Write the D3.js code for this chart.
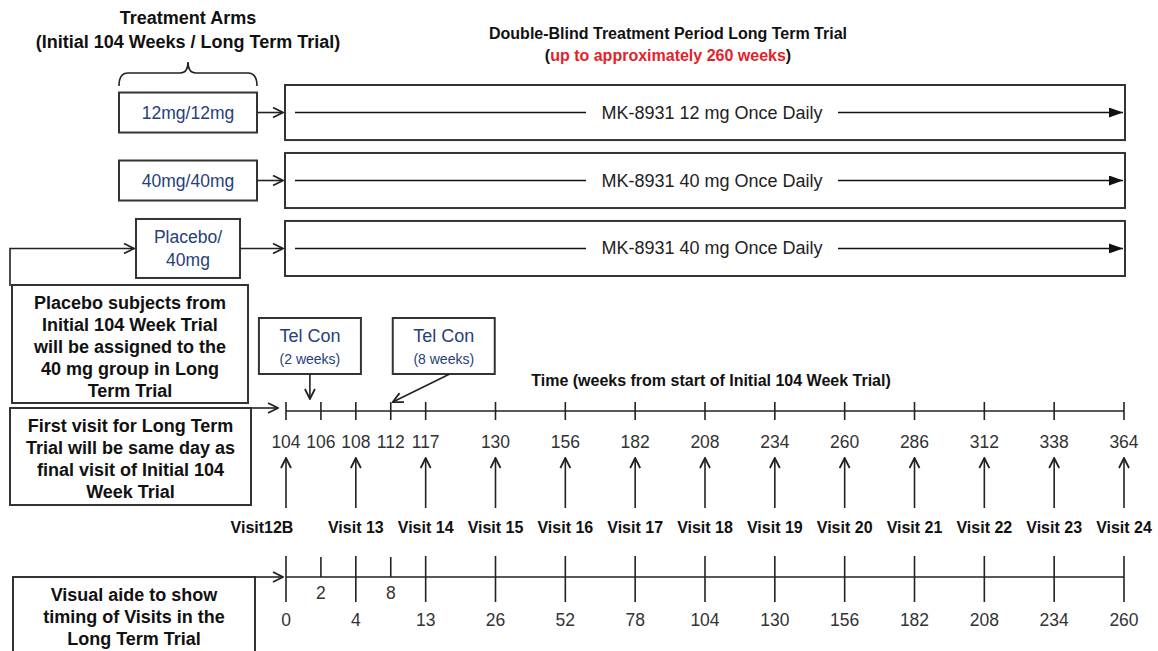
<!DOCTYPE html>
<html>
<head>
<meta charset="utf-8">
<script src="https://cdn.jsdelivr.net/npm/d3@7/dist/d3.min.js"></script>
<style>
  body { margin: 0; background: #fff; }
  text { font-family: "Liberation Sans", Arial, sans-serif; }
</style>
</head>
<body>
<div id="wrapper"></div>
<script>
// treatment arms
const armLabels = [["12mg/12mg"], ["40mg/40mg"], ["Placebo/", "40mg"]];
const armTreatments = [
  "MK-8931 12 mg Once Daily",
  "MK-8931 40 mg Once Daily",
  "MK-8931 40 mg Once Daily",
];

// visits (weeks from start of initial trial / weeks in long term trial)
const visitWeeks = [104, 108, 117, 130, 156, 182, 208, 234, 260, 286, 312, 338, 364];
const visitLongTerm = [0, 4, 13, 26, 52, 78, 104, 130, 156, 182, 208, 234, 260];
const visitNames = [
  "Visit12B", "Visit 13", "Visit 14", "Visit 15", "Visit 16", "Visit 17", "Visit 18",
  "Visit 19", "Visit 20", "Visit 21", "Visit 22", "Visit 23", "Visit 24",
];

// telephone contacts
const telconWeeks = [106, 112];
const telconLongTerm = [2, 8];
const telconLabels = ["(2 weeks)", "(8 weeks)"];

// notes on the left
const notePlacebo = ["Placebo subjects from", "Initial  104 Week Trial", "will  be assigned to the", "40 mg group in  Long", "Term Trial"];
const noteFirstVisit = ["First visit for Long Term", "Trial will  be same day as", "final visit of Initial  104", "Week Trial"];
const noteVisualAide = ["Visual aide to show", "timing of Visits in the", "Long Term Trial"];

function drawDesign() {
  const dimensions = { width: 1158, height: 651 };
  const navy = "#27407c";
  const boxStroke = "#333";

  const wrapper = d3
    .select("#wrapper")
    .append("svg")
    .attr("width", dimensions.width)
    .attr("height", dimensions.height);

  const defs = wrapper.append("defs");
  defs.append("marker")
    .attr("id", "open")
    .attr("markerUnits", "userSpaceOnUse")
    .attr("viewBox", "0 0 12 12")
    .attr("refX", 11).attr("refY", 6)
    .attr("markerWidth", 12).attr("markerHeight", 12)
    .attr("orient", "auto")
    .append("path")
    .attr("d", "M1,1 L11,6 L1,11")
    .attr("fill", "none")
    .attr("stroke", "#222")
    .attr("stroke-width", 1.8);
  defs.append("marker")
    .attr("id", "solid")
    .attr("markerUnits", "userSpaceOnUse")
    .attr("viewBox", "0 0 14 10")
    .attr("refX", 14).attr("refY", 5)
    .attr("markerWidth", 14).attr("markerHeight", 10)
    .attr("orient", "auto")
    .append("path")
    .attr("d", "M0,0 L14,5 L0,10 Z")
    .attr("fill", "#111");

  function addLines(g, lines, x, y0, dy) {
    const t = g.append("text").attr("text-anchor", "middle");
    lines.forEach((l, i) => {
      t.append("tspan").attr("x", x).attr("y", y0 + i * dy).text(l);
    });
    return t;
  }

  // headers
  const header = wrapper.append("g")
    .style("font-weight", "bold")
    .attr("fill", "#111");
  addLines(header, ["Treatment Arms", "(Initial  104 Weeks / Long Term Trial)"], 188, 24, 24)
    .style("font-size", "18px");
  header.append("text")
    .attr("x", 668).attr("y", 39)
    .attr("text-anchor", "middle")
    .style("font-size", "16px")
    .text("Double-Blind Treatment Period Long Term Trial");
  const sub = header.append("text")
    .attr("x", 668).attr("y", 61)
    .attr("text-anchor", "middle")
    .style("font-size", "16px");
  sub.append("tspan").text("(");
  sub.append("tspan").attr("fill", "#e4222a").text("up to approximately 260 weeks");
  sub.append("tspan").text(")");

  // brace
  wrapper.append("path")
    .attr("d", "M119,86 Q119,73 128,73 L180,73 Q188,73 188,62 Q188,73 196,73 L248,73 Q257,73 257,86")
    .attr("fill", "none")
    .attr("stroke", "#222")
    .attr("stroke-width", 1.6);

  // Step: arm rows
  const armIdx = d3.range(armLabels.length);
  const yArm = d3.scaleBand()
    .domain(armIdx)
    .range([85, 276])
    .paddingInner(0.19);

  const arms = wrapper.append("g");
  armIdx.forEach((i) => {
    const cy = yArm(i) + yArm.bandwidth() / 2;
    const twoLine = armLabels[i].length > 1;
    const bw = twoLine ? 104 : 138;
    const bh = twoLine ? 59 : 40;
    const bx = 188 - bw / 2;
    arms.append("rect")
      .attr("x", bx).attr("y", cy - bh / 2)
      .attr("width", bw).attr("height", bh)
      .attr("fill", "#fff")
      .attr("stroke", boxStroke)
      .attr("stroke-width", 2);
    addLines(arms, armLabels[i], 188, cy + 6 - (armLabels[i].length - 1) * 11, 23)
      .attr("fill", navy)
      .style("font-size", "17.5px");
    arms.append("line")
      .attr("x1", bx + bw).attr("x2", 283)
      .attr("y1", cy).attr("y2", cy)
      .attr("stroke", "#222").attr("stroke-width", 1.6)
      .attr("marker-end", "url(#open)");

    // treatment period box
    arms.append("rect")
      .attr("x", 285).attr("y", yArm(i))
      .attr("width", 840).attr("height", yArm.bandwidth())
      .attr("fill", "#fff")
      .attr("stroke", boxStroke)
      .attr("stroke-width", 2);
    arms.append("line")
      .attr("x1", 295).attr("x2", 1123)
      .attr("y1", cy).attr("y2", cy)
      .attr("stroke", "#111").attr("stroke-width", 1.6)
      .attr("marker-end", "url(#solid)");
    arms.append("rect")
      .attr("x", 586).attr("y", cy - 12)
      .attr("width", 252).attr("height", 24)
      .attr("fill", "#fff");
    arms.append("text")
      .attr("x", 712).attr("y", cy + 6)
      .attr("text-anchor", "middle")
      .style("font-size", "18px")
      .attr("fill", "#222")
      .text(armTreatments[i]);
  });

  // placebo re-assignment arrow
  const placeboY = yArm(2) + yArm.bandwidth() / 2;
  wrapper.append("path")
    .attr("d", `M10,286 L10,${placeboY} L134,${placeboY}`)
    .attr("fill", "none")
    .attr("stroke", "#222").attr("stroke-width", 1.6)
    .attr("marker-end", "url(#open)");

  // left note boxes
  const notes = wrapper.append("g")
    .style("font-weight", "bold")
    .style("font-size", "18px")
    .attr("fill", "#111");
  const noteBoxes = [
    { lines: notePlacebo, x: 12, y: 285, w: 236, h: 118 },
    { lines: noteFirstVisit, x: 10, y: 408, w: 241, h: 97 },
    { lines: noteVisualAide, x: 13, y: 577, w: 242, h: 90 },
  ];
  noteBoxes.forEach((b) => {
    notes.append("rect")
      .attr("x", b.x).attr("y", b.y)
      .attr("width", b.w).attr("height", b.h)
      .attr("fill", "#fff")
      .attr("stroke", boxStroke)
      .attr("stroke-width", 2);
    addLines(notes, b.lines, b.x + b.w / 2, b.y + 24, 22);
  });
  wrapper.append("line")
    .attr("x1", 251).attr("x2", 278).attr("y1", 408).attr("y2", 408)
    .attr("stroke", "#222").attr("stroke-width", 1.6)
    .attr("marker-end", "url(#open)");
  wrapper.append("line")
    .attr("x1", 255).attr("x2", 283).attr("y1", 577).attr("y2", 577)
    .attr("stroke", "#222").attr("stroke-width", 1.6)
    .attr("marker-end", "url(#open)");

  // Step: time scale
  const xScale = d3.scalePoint()
    .domain(visitWeeks)
    .range([286, 1124]);
  const telconX = (w) => {
    const i = d3.bisect(visitWeeks, w);
    return (xScale(visitWeeks[i - 1]) + xScale(visitWeeks[i])) / 2;
  };

  const topY = 411;
  const bottomY = 577;

  // top axis (weeks from start of initial trial)
  const topAxis = wrapper.append("g").attr("stroke", "#222").attr("stroke-width", 1.6);
  topAxis.append("line")
    .attr("x1", xScale(visitWeeks[0])).attr("x2", xScale(visitWeeks[visitWeeks.length - 1]))
    .attr("y1", topY).attr("y2", topY);
  const topTicks = visitWeeks.map((w) => ({ x: xScale(w), label: w }))
    .concat(telconWeeks.map((w) => ({ x: telconX(w), label: w })));
  topAxis.selectAll(".tick")
    .data(topTicks)
    .join("line")
    .attr("class", "tick")
    .attr("x1", (d) => d.x).attr("x2", (d) => d.x)
    .attr("y1", topY - 9).attr("y2", topY + 9);
  wrapper.append("g")
    .selectAll("text")
    .data(topTicks)
    .join("text")
    .attr("x", (d) => d.x)
    .attr("y", 448)
    .attr("text-anchor", "middle")
    .style("font-size", "17.5px")
    .attr("fill", "#333")
    .text((d) => d.label);

  wrapper.append("text")
    .attr("x", 711).attr("y", 386)
    .attr("text-anchor", "middle")
    .style("font-size", "16px")
    .style("font-weight", "bold")
    .attr("fill", "#111")
    .text("Time (weeks from start of Initial 104 Week Trial)");

  // visit arrows and names
  wrapper.append("g")
    .selectAll("line")
    .data(visitWeeks)
    .join("line")
    .attr("x1", (d) => xScale(d)).attr("x2", (d) => xScale(d))
    .attr("y1", 508).attr("y2", 458)
    .attr("stroke", "#222").attr("stroke-width", 1.6)
    .attr("marker-end", "url(#open)");
  wrapper.append("g")
    .selectAll("text")
    .data(visitWeeks)
    .join("text")
    .attr("x", (d) => xScale(d))
    .attr("dx", (d, i) => (i === 0 ? -24 : 0))
    .attr("y", 533)
    .attr("text-anchor", "middle")
    .style("font-size", "16px")
    .style("font-weight", "bold")
    .attr("fill", "#111")
    .text((d, i) => visitNames[i]);

  // tel con callouts
  const callouts = wrapper.append("g");
  telconWeeks.forEach((w, i) => {
    const tx = telconX(w);
    const cx = i === 0 ? tx - 11 : tx + 53;
    callouts.append("rect")
      .attr("x", cx - 51).attr("y", 318)
      .attr("width", 102).attr("height", 56)
      .attr("fill", "#fff")
      .attr("stroke", boxStroke)
      .attr("stroke-width", 2);
    callouts.append("text")
      .attr("x", cx).attr("y", 342)
      .attr("text-anchor", "middle")
      .style("font-size", "18px")
      .attr("fill", navy)
      .text("Tel Con");
    callouts.append("text")
      .attr("x", cx).attr("y", 364)
      .attr("text-anchor", "middle")
      .style("font-size", "14px")
      .attr("fill", navy)
      .text(telconLabels[i]);
    const start = i === 0 ? [cx, 374] : [cx + 6, 374];
    const end = i === 0 ? [cx, 399] : [tx + 2, 402];
    callouts.append("line")
      .attr("x1", start[0]).attr("y1", start[1])
      .attr("x2", end[0]).attr("y2", end[1])
      .attr("stroke", "#222").attr("stroke-width", 1.6)
      .attr("marker-end", "url(#open)");
  });

  // bottom axis (weeks in long term trial)
  const bottomAxis = wrapper.append("g").attr("stroke", "#222").attr("stroke-width", 1.6);
  bottomAxis.append("line")
    .attr("x1", xScale(visitWeeks[0])).attr("x2", xScale(visitWeeks[visitWeeks.length - 1]))
    .attr("y1", bottomY).attr("y2", bottomY);
  bottomAxis.selectAll(".vtick")
    .data(visitWeeks)
    .join("line")
    .attr("class", "vtick")
    .attr("x1", (d) => xScale(d)).attr("x2", (d) => xScale(d))
    .attr("y1", bottomY - 21).attr("y2", bottomY + 25);
  bottomAxis.selectAll(".ttick")
    .data(telconWeeks)
    .join("line")
    .attr("class", "ttick")
    .attr("x1", (d) => telconX(d)).attr("x2", (d) => telconX(d))
    .attr("y1", bottomY - 20).attr("y2", bottomY);

  const bottomLabels = wrapper.append("g")
    .style("font-size", "17.5px")
    .attr("fill", "#333")
    .attr("text-anchor", "middle");
  bottomLabels.selectAll(".vlab")
    .data(visitWeeks)
    .join("text")
    .attr("class", "vlab")
    .attr("x", (d) => xScale(d))
    .attr("y", 626)
    .text((d, i) => visitLongTerm[i]);
  bottomLabels.selectAll(".tlab")
    .data(telconWeeks)
    .join("text")
    .attr("class", "tlab")
    .attr("x", (d) => telconX(d))
    .attr("y", 599)
    .text((d, i) => telconLongTerm[i]);
}

drawDesign();
</script>
</body>
</html>
